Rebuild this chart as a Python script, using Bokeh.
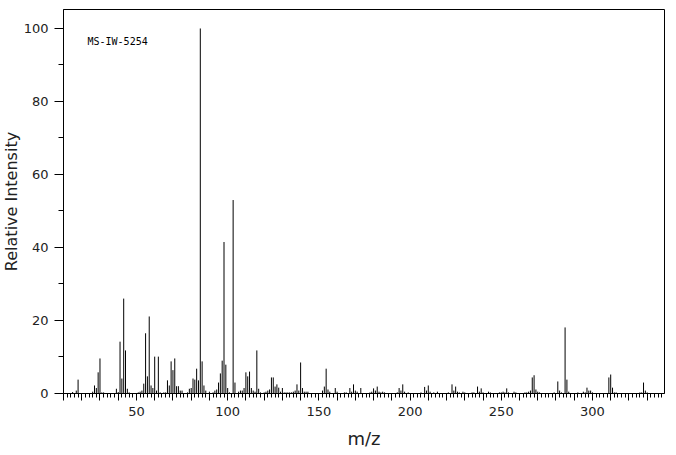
from bokeh.plotting import figure
from bokeh.models import Range1d, FixedTicker, CustomJSTickFormatter, Label, ColumnDataSource, Title
from bokeh.embed import file_html
from bokeh.resources import INLINE

# ---- data, 10 peaks per line ----
mz = [
    15, 17, 18, 26, 27, 28, 29, 30, 31, 32,
    39, 40, 41, 42, 43, 44, 45, 46, 51, 52,
    53, 54, 55, 56, 57, 58, 59, 60, 61, 62,
    63, 65, 66, 67, 68, 69, 70, 71, 72, 73,
    74, 75, 78, 79, 80, 81, 82, 83, 84, 85,
    86, 87, 88, 90, 92, 93, 94, 95, 96, 97,
    98, 99, 100, 101, 103, 104, 106, 107, 108, 109,
    110, 111, 112, 113, 114, 115, 116, 117, 118, 120,
    121, 122, 123, 124, 125, 126, 127, 128, 129, 130,
    131, 132, 133, 134, 135, 136, 137, 138, 139, 140,
    141, 142, 143, 144, 152, 153, 154, 155, 156, 159,
    160, 164, 165, 167, 168, 169, 170, 171, 173, 178,
    179, 180, 181, 182, 183, 184, 185, 186, 193, 194,
    195, 196, 197, 199, 206, 208, 209, 210, 211, 213,
    215, 221, 223, 224, 225, 226, 227, 229, 230, 234,
    235, 237, 238, 239, 240, 243, 244, 249, 250, 251,
    252, 253, 254, 257, 258, 263, 264, 265, 266, 267,
    268, 269, 270, 271, 279, 281, 282, 283, 285, 286,
    287, 292, 295, 296, 297, 298, 299, 300, 309, 310,
    311, 312, 313, 326, 327, 328, 329, 330,
]
intensity = [
    0.4, 0.8, 3.8, 0.5, 2.2, 1.5, 5.8, 9.6, 0.3, 0.3,
    1.3, 0.4, 14.2, 4.1, 26.0, 11.8, 1.3, 0.3, 0.3, 0.5,
    0.8, 2.7, 16.5, 4.7, 21.1, 2.2, 1.5, 10.1, 0.8, 10.1,
    0.3, 0.3, 0.3, 3.6, 2.2, 8.8, 6.4, 9.6, 2.0, 2.0,
    0.8, 0.8, 0.3, 1.3, 1.5, 4.1, 3.8, 6.8, 3.6, 100.0,
    8.8, 2.2, 0.8, 0.5, 0.3, 0.8, 1.1, 3.0, 5.5, 9.0,
    41.5, 7.9, 1.5, 0.3, 53.0, 3.0, 0.5, 0.8, 0.8, 1.5,
    5.8, 4.7, 6.0, 1.5, 0.8, 0.5, 11.8, 1.3, 0.3, 0.3,
    0.5, 0.8, 1.1, 4.4, 4.4, 1.9, 2.5, 1.6, 0.5, 1.5,
    0.3, 0.3, 0.3, 0.3, 0.3, 0.5, 0.8, 2.5, 0.8, 8.5,
    1.5, 0.5, 0.5, 0.5, 0.8, 1.9, 6.8, 1.1, 0.5, 1.5,
    0.5, 0.3, 0.3, 1.5, 0.5, 2.5, 0.8, 0.5, 1.5, 0.3,
    0.5, 1.4, 0.8, 1.9, 0.5, 0.3, 0.5, 0.3, 0.3, 1.5,
    0.8, 2.5, 0.5, 0.3, 0.3, 1.8, 0.8, 2.2, 0.5, 0.3,
    0.5, 0.3, 2.5, 0.8, 1.9, 0.5, 0.3, 0.5, 0.3, 0.3,
    0.3, 1.9, 0.5, 1.4, 0.3, 0.5, 0.3, 0.3, 0.3, 0.5,
    0.3, 1.4, 0.3, 0.5, 0.3, 0.3, 0.3, 0.5, 0.8, 4.4,
    5.0, 1.1, 0.5, 0.3, 0.3, 3.3, 0.8, 0.3, 18.1, 3.8,
    0.5, 0.3, 0.5, 0.3, 1.6, 0.8, 0.8, 0.3, 4.4, 5.2,
    1.6, 0.3, 0.3, 0.3, 0.3, 3.0, 0.8, 0.3,
]
assert len(mz) == len(intensity)

x_label_ticks = [50, 100, 150, 200, 250, 300]
x_major_ticks = list(range(10, 341, 10))
x_minor_ticks = list(range(12, 341, 2))
y_major_ticks = [0, 20, 40, 60, 80, 100]
y_minor_ticks = [10, 30, 50, 70, 90]
spectrum_id = "MS-IW-5254"
x_title = "m/z"
y_title = "Relative Intensity"

X_START, X_END = 10, 339.5
Y_START, Y_END = 0, 105.2

p = figure(width=676, height=455, output_backend="svg", toolbar_location=None,
           x_range=Range1d(X_START, X_END), y_range=Range1d(Y_START, Y_END),
           min_border_left=63, min_border_right=12, min_border_top=9,
           min_border_bottom=62, background_fill_color="white",
           border_fill_color="white")

p.xgrid.visible = False
p.ygrid.visible = False
p.outline_line_color = "black"
p.outline_line_width = 1
p.outline_line_alpha = 1

src = ColumnDataSource(data=dict(mz=mz, intensity=intensity))
p.segment(x0="mz", y0=0, x1="mz", y1="intensity", source=src,
          line_color="black", line_width=1)

tick_font = "DejaVu Sans"

xa = p.xaxis[0]
xa.ticker = FixedTicker(ticks=x_major_ticks, minor_ticks=x_minor_ticks)
xa.formatter = CustomJSTickFormatter(
    args=dict(labels=x_label_ticks),
    code="return labels.indexOf(tick) >= 0 ? tick.toString() : '';")
xa.axis_label = x_title
xa.axis_label_text_font = tick_font
xa.axis_label_text_font_style = "normal"
xa.axis_label_text_font_size = "18px"
xa.axis_label_text_color = "#222222"
xa.axis_label_standoff = 9
xa.major_label_text_font = tick_font
xa.major_label_text_font_size = "13px"
xa.major_label_text_color = "#222222"
xa.major_label_standoff = 6
xa.major_tick_in = 0
xa.major_tick_out = 7
xa.minor_tick_in = 0
xa.minor_tick_out = 4
xa.axis_line_color = "black"
xa.major_tick_line_color = "black"
xa.minor_tick_line_color = "black"

ya = p.yaxis[0]
ya.ticker = FixedTicker(ticks=y_major_ticks, minor_ticks=y_minor_ticks)
ya.major_label_text_font = tick_font
ya.major_label_text_font_size = "13px"
ya.major_label_text_color = "#222222"
ya.major_label_standoff = 6
ya.major_tick_in = 0
ya.major_tick_out = 9
ya.minor_tick_in = 0
ya.minor_tick_out = 5
ya.axis_line_color = "black"
ya.major_tick_line_color = "black"
ya.minor_tick_line_color = "black"

# y-axis title as a side title in the left border
ytitle = Title(text=y_title, align="center", text_font=tick_font,
               text_font_size="16px", text_font_style="normal",
               text_color="#222222", standoff=-1, offset=0)
p.add_layout(ytitle, "left")

label = Label(x=24, y=352, x_units="screen", y_units="screen", text=spectrum_id,
              text_font="DejaVu Sans Mono", text_font_size="10px",
              text_color="black", text_baseline="middle", text_align="left")
p.add_layout(label)

open("out.html", "w").write(file_html(p, INLINE))
